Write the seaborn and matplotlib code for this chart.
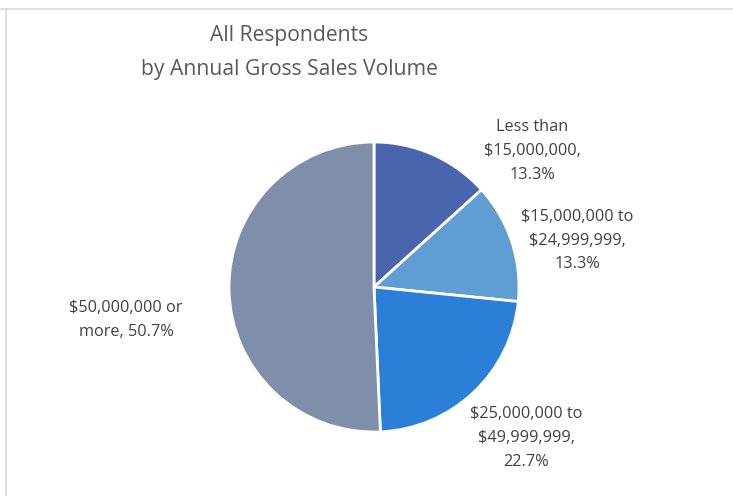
import matplotlib
matplotlib.use("Agg")
import matplotlib.pyplot as plt
import seaborn as sns
from matplotlib.lines import Line2D

sns.set_theme(style="white")
plt.rcParams['font.family'] = ['Open Sans', 'DejaVu Sans']

# Data
categories = ["Less than\n$15,000,000,\n13.3%",
              "$15,000,000 to\n$24,999,999,\n13.3%",
              "$25,000,000 to\n$49,999,999,\n22.7%",
              "$50,000,000 or\nmore, 50.7%"]
values = [13.3, 13.3, 22.7, 50.7]
colors = ["#4a64ad", "#5f9dd2", "#2b7fd6", "#7f8ea9"]

# label anchor positions (data units, pie radius = 1)
label_pos = [(1.09, 0.94), (1.40, 0.32), (1.05, -1.04), (-1.71, -0.23)]

W, H = 733, 496
fig = plt.figure(figsize=(W / 100, H / 100), dpi=100)
fig.patch.set_facecolor("white")
ax = fig.add_axes([0, 0, 1, 1])

cx, cy, r = 374, 287, 145
ax.pie(values, colors=colors, startangle=90, counterclock=False, radius=1,
       wedgeprops=dict(edgecolor="white", linewidth=2))
ax.set_xlim(-cx / r, (W - cx) / r)
ax.set_ylim(-(H - cy) / r, cy / r)
ax.set_aspect("auto")
ax.axis("off")

for lab, (x, y) in zip(categories, label_pos):
    ax.text(x, y, lab, ha="center", va="center", fontsize=11.7, color="#404040",
            linespacing=1.65)

fig.text(289 / W, 1 - 52.5 / H, "All Respondents\nby Annual Gross Sales Volume",
         ha="center", va="center", fontsize=15.2, color="#595959", linespacing=1.78)

# chart-area border (top and left visible)
fig.add_artist(Line2D([0, 1], [1 - 8.5 / H] * 2, color="#d9d9d9", lw=1.2,
                      transform=fig.transFigure))
fig.add_artist(Line2D([5.5 / W] * 2, [0, 1 - 8.5 / H], color="#d9d9d9", lw=1.2,
                      transform=fig.transFigure))

fig.savefig("out.png", dpi=100, facecolor="white")
